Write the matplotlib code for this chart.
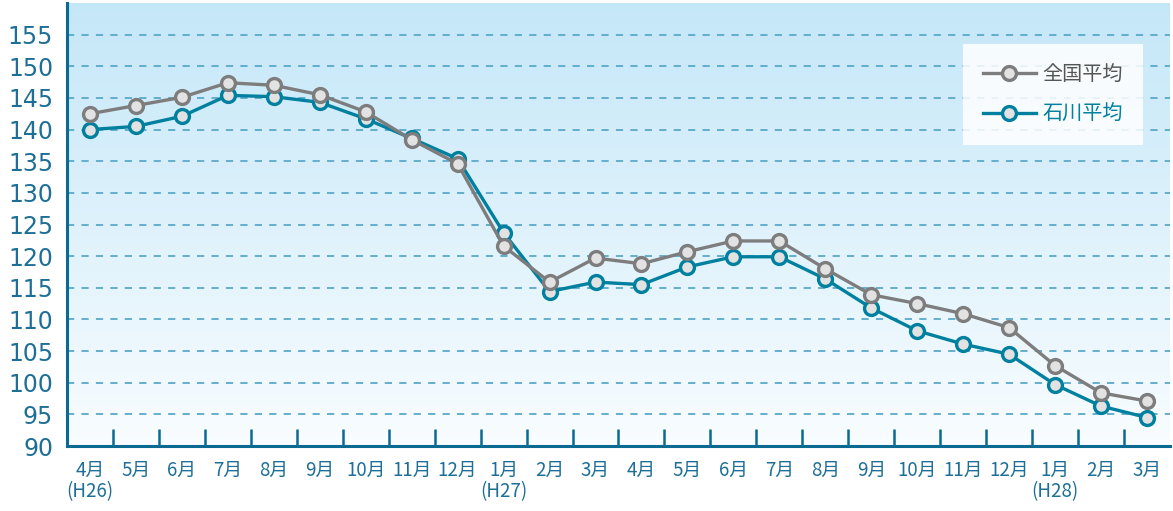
import matplotlib
matplotlib.use("Agg")
import matplotlib.pyplot as plt
import numpy as np
from matplotlib.lines import Line2D

plt.rcParams['font.family'] = ['Noto Sans CJK JP', 'DejaVu Sans']

months = ["4月\n(H26)", "5月", "6月", "7月", "8月", "9月", "10月", "11月", "12月",
          "1月\n(H27)", "2月", "3月", "4月", "5月", "6月", "7月", "8月", "9月",
          "10月", "11月", "12月", "1月\n(H28)", "2月", "3月"]
national = [142.5, 143.8, 145.1, 147.4, 147.0, 145.5, 142.8, 138.4, 134.6,
            121.6, 115.9, 119.7, 118.8, 120.7, 122.4, 122.4, 118.0, 113.9,
            112.5, 110.9, 108.7, 102.7, 98.4, 97.1]
ishikawa = [140.0, 140.5, 142.1, 145.4, 145.2, 144.3, 141.7, 138.6, 135.4,
            123.7, 114.4, 115.9, 115.5, 118.3, 119.9, 119.9, 116.4, 111.8,
            108.2, 106.1, 104.5, 99.7, 96.3, 94.5]
yticks = list(range(90, 160, 5))
series_names = ["全国平均", "石川平均"]

gray = "#7d7d7d"
teal = "#00809f"
axis_col = "#0a6a92"
label_col = "#1d6f97"
grid_col = "#5aa9c9"
face = "#e2e2e2"

fig = plt.figure(figsize=(11.73, 5.11), dpi=100)
ax = fig.add_axes([67/1173, 1-446/511, (1170-67)/1173, (446-3)/511])

x = np.arange(len(months))
ax.set_xlim(-0.5, len(months) - 0.5)
ax.set_ylim(90, 160)

# gradient background
top = np.array([0.77, 0.906, 0.973])
bot = np.array([0.975, 0.99, 1.0])
t = np.linspace(0, 1, 256)[:, None]
grad = (top[None, :] * (1 - t) + bot[None, :] * t)[:, None, :]
ax.imshow(grad, aspect='auto', extent=[-0.5, len(months) - 0.5, 90, 160],
          origin='upper', zorder=0)

for yv in yticks[1:]:
    ax.axhline(yv, color=grid_col, lw=1.3, ls=(0, (4, 4)), zorder=1)

ax.plot(x, ishikawa, color=teal, lw=2.4, marker='o', ms=10, mfc=face,
        mec=teal, mew=2.4, zorder=3, label=series_names[1])
ax.plot(x, national, color=gray, lw=2.4, marker='o', ms=10, mfc=face,
        mec=gray, mew=2.4, zorder=4, label=series_names[0])

for s in ['top', 'right']:
    ax.spines[s].set_visible(False)
for s in ['left', 'bottom']:
    ax.spines[s].set_color(axis_col)
    ax.spines[s].set_linewidth(2.2)

ax.set_yticks(yticks)
ax.set_yticklabels([str(v) for v in yticks], fontsize=17, color=label_col,
                   family=['DejaVu Sans'])
ax.tick_params(axis='y', length=0, pad=10)

ax.set_xticks(x)
ax.set_xticklabels(months, fontsize=13.5, color=label_col, linespacing=1.0,
                   va='top')
ax.tick_params(axis='x', which='major', length=0, pad=10)
ax.set_xticks(np.arange(0.5, len(months) - 0.5, 1), minor=True)
ax.tick_params(axis='x', which='minor', direction='in', length=12, width=1.8,
               color=axis_col)

handles = [Line2D([0], [0], color=gray, lw=2.4, marker='o', ms=10, mfc=face, mec=gray, mew=2.4),
           Line2D([0], [0], color=teal, lw=2.4, marker='o', ms=10, mfc=face, mec=teal, mew=2.4)]
leg = ax.legend(handles, series_names, loc='upper left',
                bbox_to_anchor=((963-67)/1103, 1-(44-3)/443), fontsize=14.5,
                frameon=True, fancybox=False, framealpha=0.85, edgecolor='none',
                facecolor='white', handlelength=2.6, borderpad=1.0,
                labelspacing=0.95, borderaxespad=0, handletextpad=0.35)
texts = leg.get_texts()
texts[0].set_color("#555555")
texts[1].set_color(teal)
leg.set_zorder(5)

fig.savefig("out.png", dpi=100)
